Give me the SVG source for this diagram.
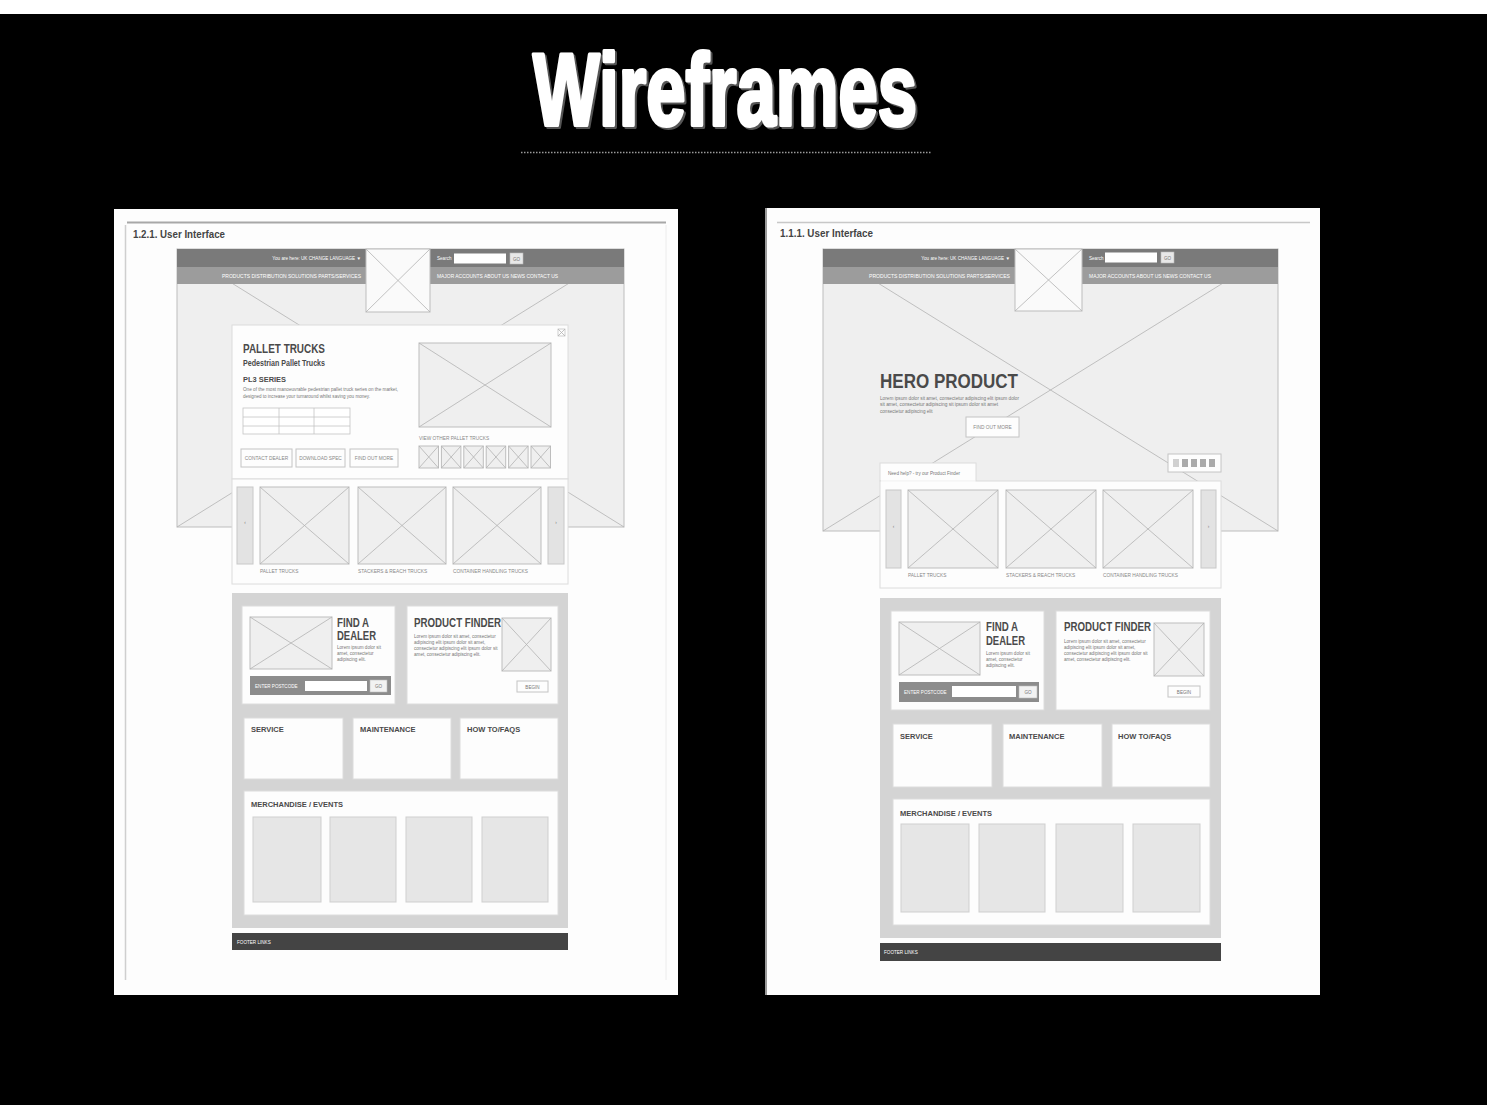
<svg xmlns="http://www.w3.org/2000/svg" width="1487" height="1105" viewBox="0 0 1487 1105">
  <style>
    .ph { fill:#efefef; stroke:#bdbdbd; stroke-width:1; }
    .x { stroke:#b3b3b3; stroke-width:0.8; fill:none; }
    .card { fill:#fdfdfd; stroke:#dcdcdc; stroke-width:1; }
    .btn { fill:#fdfdfd; stroke:#c4c4c4; stroke-width:1; }
    .arrow { fill:#e3e3e3; stroke:#c8c8c8; stroke-width:1; }
    .box { fill:#e6e6e6; stroke:#cfcfcf; stroke-width:1; }
    .sec { font-family:"Liberation Sans Narrow","Liberation Sans",Arial,sans-serif; font-size:11px; font-weight:bold; fill:#444; }
    .h { font-family:"Liberation Sans Narrow","Liberation Sans",Arial,sans-serif; font-weight:bold; fill:#4a4a4a; }
    .s { font-family:"Liberation Sans",Arial,sans-serif; font-size:4.6px; fill:#777; }
    .w { font-family:"Liberation Sans",Arial,sans-serif; font-size:4.6px; fill:#fff; }
    .lbl { font-family:"Liberation Sans",Arial,sans-serif; font-size:4.8px; fill:#888; }
    .ttl { font-family:"Liberation Sans",Arial,sans-serif; font-weight:bold; font-size:102px; stroke-linejoin:round; }
  </style>

  <!-- backdrop -->
  <rect x="0" y="0" width="1487" height="1105" fill="#000"/>
  <rect x="0" y="0" width="1487" height="14" fill="#fff"/>

  <g id="title">
    <text class="ttl" x="533" y="125" fill="#555" stroke="#555" stroke-width="4" textLength="384" lengthAdjust="spacingAndGlyphs" transform="translate(2,2)">Wireframes</text>
    <text class="ttl" x="533" y="125" fill="#fff" stroke="#fff" stroke-width="4" textLength="384" lengthAdjust="spacingAndGlyphs">Wireframes</text>
    <line x1="521" y1="152.5" x2="931" y2="152.5" stroke="#9a9a9a" stroke-width="1.5" stroke-dasharray="1.5 1.5"/>
  </g>

  <!-- ============ 1.2.1 product page ============ -->
  <g id="page-121">
    <rect x="114" y="209" width="564" height="786" fill="#fdfdfd"/>
    <line x1="127" y1="222.5" x2="666" y2="222.5" stroke="#a8a8a8" stroke-width="2"/>
    <line x1="125.5" y1="225" x2="125.5" y2="980" stroke="#cfcfcf" stroke-width="1.5"/>
    <line x1="666" y1="225" x2="666" y2="980" stroke="#ececec" stroke-width="1"/>
    <text class="sec" x="133" y="238" textLength="92" lengthAdjust="spacingAndGlyphs">1.2.1. User Interface</text>

    <g id="hero-121">
      <rect class="ph" x="177" y="249" width="447" height="278"/>
      <path class="x" d="M177 249 L624 527 M624 249 L177 527"/>
    </g>
    <g id="header-121">
      <rect x="177" y="249" width="447" height="18" fill="#7a7a7a"/>
      <rect x="177" y="267" width="447" height="17" fill="#9c9c9c"/>
      <text class="w" x="361" y="260" text-anchor="end">You are here: UK   CHANGE LANGUAGE ▼</text>
      <text class="w" x="222" y="277.5" textLength="139" lengthAdjust="spacingAndGlyphs">PRODUCTS    DISTRIBUTION   SOLUTIONS   PARTS/SERVICES</text>
      <text class="w" x="437" y="260">Search</text>
      <rect x="454" y="253.5" width="52" height="10" fill="#fff"/>
      <rect x="510" y="253" width="13" height="11" fill="#e8e8e8" stroke="#bbb" stroke-width="0.6"/>
      <text class="s" x="516.5" y="260.5" text-anchor="middle">GO</text>
      <text class="w" x="437" y="277.5" textLength="121" lengthAdjust="spacingAndGlyphs">MAJOR ACCOUNTS   ABOUT US   NEWS   CONTACT US</text>
      <rect x="366" y="249" width="64" height="63" fill="#fafafa" stroke="#bdbdbd"/>
      <path class="x" d="M366 249 L430 312 M430 249 L366 312"/>
    </g>

    <g id="product-card-121">
      <rect class="card" x="232" y="325" width="336" height="154"/>
      <rect x="558" y="329" width="7" height="7" fill="none" stroke="#bbb" stroke-width="0.7"/>
      <path class="x" d="M558 329 L565 336 M565 329 L558 336"/>
      <text class="h" x="243" y="353" font-size="13.5" textLength="82" lengthAdjust="spacingAndGlyphs">PALLET TRUCKS</text>
      <text class="h" x="243" y="366" font-size="8.5" textLength="82" lengthAdjust="spacingAndGlyphs">Pedestrian Pallet Trucks</text>
      <text class="h" x="243" y="382" font-size="8" textLength="43" lengthAdjust="spacingAndGlyphs">PL3 SERIES</text>
      <text class="s" x="243" y="391" textLength="155" lengthAdjust="spacingAndGlyphs">One of the most manoeuvrable pedestrian pallet truck series on the market,</text>
      <text class="s" x="243" y="397.5" textLength="127" lengthAdjust="spacingAndGlyphs">designed to increase your turnaround whilst saving you money.</text>
      <rect x="243" y="408" width="107" height="26" fill="#fff" stroke="#c4c4c4" stroke-width="0.8"/>
      <path d="M279 408 V434 M314 408 V434 M243 417 H350 M243 426 H350" stroke="#c4c4c4" stroke-width="0.8"/>
      <rect class="btn" x="241" y="449" width="51" height="18"/>
      <rect class="btn" x="296" y="449" width="49" height="18"/>
      <rect class="btn" x="350" y="449" width="48" height="18"/>
      <text class="lbl" x="266.5" y="460" text-anchor="middle">CONTACT DEALER</text>
      <text class="lbl" x="320.5" y="460" text-anchor="middle">DOWNLOAD SPEC</text>
      <text class="lbl" x="374" y="460" text-anchor="middle">FIND OUT MORE</text>
      <rect class="ph" x="419" y="343" width="132" height="84"/>
      <path class="x" d="M419 343 L551 427 M551 343 L419 427"/>
      <text class="lbl" x="419" y="439.5">VIEW OTHER PALLET TRUCKS</text>
      <g id="thumbs-121">
        <rect class="ph" x="419" y="446" width="19.5" height="22"/><path class="x" d="M419 446 l19.5 22 m-19.5 0 l19.5 -22"/>
        <rect class="ph" x="441.4" y="446" width="19.5" height="22"/><path class="x" d="M441.4 446 l19.5 22 m-19.5 0 l19.5 -22"/>
        <rect class="ph" x="463.8" y="446" width="19.5" height="22"/><path class="x" d="M463.8 446 l19.5 22 m-19.5 0 l19.5 -22"/>
        <rect class="ph" x="486.2" y="446" width="19.5" height="22"/><path class="x" d="M486.2 446 l19.5 22 m-19.5 0 l19.5 -22"/>
        <rect class="ph" x="508.6" y="446" width="19.5" height="22"/><path class="x" d="M508.6 446 l19.5 22 m-19.5 0 l19.5 -22"/>
        <rect class="ph" x="531" y="446" width="19.5" height="22"/><path class="x" d="M531 446 l19.5 22 m-19.5 0 l19.5 -22"/>
      </g>
    </g>

    <g id="carousel-121">
      <rect class="card" x="232" y="479" width="336" height="105"/>
      <rect class="arrow" x="237" y="487" width="16" height="77"/>
      <text class="s" x="245" y="524" text-anchor="middle">‹</text>
      <rect class="arrow" x="548" y="487" width="16" height="77"/>
      <text class="s" x="556" y="524" text-anchor="middle">›</text>
      <rect class="ph" x="260" y="487" width="89" height="77"/><path class="x" d="M260 487 L349 564 M349 487 L260 564"/>
      <rect class="ph" x="358" y="487" width="88" height="77"/><path class="x" d="M358 487 L446 564 M446 487 L358 564"/>
      <rect class="ph" x="453" y="487" width="88" height="77"/><path class="x" d="M453 487 L541 564 M541 487 L453 564"/>
      <text class="lbl" x="260" y="572.5">PALLET TRUCKS</text>
      <text class="lbl" x="358" y="572.5">STACKERS &amp; REACH TRUCKS</text>
      <text class="lbl" x="453" y="572.5">CONTAINER HANDLING TRUCKS</text>
    </g>

    <g id="services-121">
      <rect x="232" y="593" width="336" height="335" fill="#d4d4d4"/>
      <g id="dealer-121">
        <rect class="card" x="242" y="606" width="153" height="98"/>
        <rect class="ph" x="250" y="617" width="82" height="52"/><path class="x" d="M250 617 L332 669 M332 617 L250 669"/>
        <text class="h" x="337" y="627" font-size="12" textLength="32" lengthAdjust="spacingAndGlyphs">FIND A</text>
        <text class="h" x="337" y="640" font-size="12" textLength="39" lengthAdjust="spacingAndGlyphs">DEALER</text>
        <text class="s" x="337" y="649">Lorem ipsum dolor sit</text>
        <text class="s" x="337" y="655">amet, consectetur</text>
        <text class="s" x="337" y="661">adipiscing elit.</text>
        <rect x="250" y="676" width="141" height="19" fill="#8c8c8c"/>
        <text class="w" x="255" y="688">ENTER POSTCODE</text>
        <rect x="305" y="681" width="62" height="10" fill="#fff"/>
        <rect x="370" y="680" width="17" height="12" fill="#f2f2f2" stroke="#bbb" stroke-width="0.6"/>
        <text class="s" x="378.5" y="688" text-anchor="middle">GO</text>
      </g>
      <g id="finder-121">
        <rect class="card" x="407" y="606" width="151" height="98"/>
        <text class="h" x="414" y="627" font-size="12" textLength="87" lengthAdjust="spacingAndGlyphs">PRODUCT FINDER</text>
        <rect class="ph" x="502" y="618" width="49" height="53"/><path class="x" d="M502 618 L551 671 M551 618 L502 671"/>
        <text class="s" x="414" y="638">Lorem ipsum dolor sit amet, consectetur</text>
        <text class="s" x="414" y="644">adipiscing elit ipsum dolor sit amet,</text>
        <text class="s" x="414" y="650">consectetur adipiscing elit ipsum dolor sit</text>
        <text class="s" x="414" y="656">amet, consectetur adipiscing elit.</text>
        <rect class="btn" x="517" y="681" width="31" height="11"/>
        <text class="s" x="532.5" y="688.5" text-anchor="middle">BEGIN</text>
      </g>
      <rect class="card" x="244" y="718" width="99" height="61"/>
      <rect class="card" x="353" y="718" width="98" height="61"/>
      <rect class="card" x="460" y="718" width="98" height="61"/>
      <text class="h" x="251" y="732" font-size="7.5">SERVICE</text>
      <text class="h" x="360" y="732" font-size="7.5">MAINTENANCE</text>
      <text class="h" x="467" y="732" font-size="7.5">HOW TO/FAQS</text>
      <g id="merch-121">
        <rect class="card" x="244" y="791" width="314" height="124"/>
        <text class="h" x="251" y="807" font-size="7.5">MERCHANDISE / EVENTS</text>
        <rect class="box" x="253" y="817" width="68" height="85"/>
        <rect class="box" x="330" y="817" width="66" height="85"/>
        <rect class="box" x="406" y="817" width="66" height="85"/>
        <rect class="box" x="482" y="817" width="66" height="85"/>
      </g>
    </g>
    <g id="footer-121">
      <rect x="232" y="933" width="336" height="17" fill="#444"/>
      <text class="w" x="237" y="943.5">FOOTER LINKS</text>
    </g>
  </g>

  <!-- ============ 1.1.1 home page ============ -->
  <g id="page-111">
    <rect x="765" y="208" width="555" height="787" fill="#fdfdfd"/>
    <line x1="766" y1="208" x2="766" y2="995" stroke="#9a9a9a" stroke-width="2"/>
    <line x1="777" y1="222.5" x2="1310" y2="222.5" stroke="#c8c8c8" stroke-width="1.5"/>
    <text class="sec" x="780" y="237" textLength="93" lengthAdjust="spacingAndGlyphs">1.1.1. User Interface</text>

    <g id="hero-111">
      <rect class="ph" x="823" y="249" width="455" height="282"/>
      <path class="x" d="M823 249 L1278 531 M1278 249 L823 531"/>
      <text class="h" x="880" y="388" font-size="21" textLength="138" lengthAdjust="spacingAndGlyphs">HERO PRODUCT</text>
      <text class="s" x="880" y="400" textLength="139" lengthAdjust="spacingAndGlyphs">Lorem ipsum dolor sit amet, consectetur adipiscing elit ipsum dolor</text>
      <text class="s" x="880" y="406" textLength="118" lengthAdjust="spacingAndGlyphs">sit amet, consectetur adipiscing sit ipsum dolor sit amet</text>
      <text class="s" x="880" y="412.5">consectetur adipiscing elit</text>
      <rect class="btn" x="966" y="417" width="53" height="20"/>
      <text class="lbl" x="992.5" y="428.5" text-anchor="middle">FIND OUT MORE</text>
      <rect class="btn" x="1168" y="454" width="53" height="18"/>
      <rect x="1173" y="459" width="6" height="8" fill="#d0d0d0"/>
      <rect x="1182" y="459" width="6" height="8" fill="#aaa"/>
      <rect x="1191" y="459" width="6" height="8" fill="#aaa"/>
      <rect x="1200" y="459" width="6" height="8" fill="#aaa"/>
      <rect x="1209" y="459" width="6" height="8" fill="#aaa"/>
    </g>
    <g id="header-111">
      <rect x="823" y="249" width="455" height="18" fill="#7a7a7a"/>
      <rect x="823" y="267" width="455" height="17" fill="#9c9c9c"/>
      <text class="w" x="1010" y="260" text-anchor="end">You are here: UK   CHANGE LANGUAGE ▼</text>
      <text class="w" x="869" y="277.5" textLength="141" lengthAdjust="spacingAndGlyphs">PRODUCTS    DISTRIBUTION   SOLUTIONS   PARTS/SERVICES</text>
      <text class="w" x="1089" y="260">Search</text>
      <rect x="1105" y="252.5" width="52" height="10" fill="#fff"/>
      <rect x="1161" y="252" width="13" height="11" fill="#e8e8e8" stroke="#bbb" stroke-width="0.6"/>
      <text class="s" x="1167.5" y="259.5" text-anchor="middle">GO</text>
      <text class="w" x="1089" y="277.5" textLength="122" lengthAdjust="spacingAndGlyphs">MAJOR ACCOUNTS   ABOUT US   NEWS   CONTACT US</text>
      <rect x="1015" y="249" width="67" height="62" fill="#fafafa" stroke="#bdbdbd"/>
      <path class="x" d="M1015 249 L1082 311 M1082 249 L1015 311"/>
    </g>

    <g id="carousel-111">
      <rect class="card" x="880" y="463" width="96" height="18"/>
      <text class="s" x="888" y="474.5">Need help? - try our Product Finder</text>
      <rect class="card" x="880" y="481" width="341" height="107"/>
      <line x1="881" y1="481" x2="975.5" y2="481" stroke="#fdfdfd" stroke-width="1.5"/>
      <rect class="arrow" x="886" y="490" width="15" height="78"/>
      <text class="s" x="893.5" y="528" text-anchor="middle">‹</text>
      <rect class="arrow" x="1201" y="490" width="15" height="78"/>
      <text class="s" x="1208.5" y="528" text-anchor="middle">›</text>
      <rect class="ph" x="908" y="490" width="90" height="78"/><path class="x" d="M908 490 L998 568 M998 490 L908 568"/>
      <rect class="ph" x="1006" y="490" width="90" height="78"/><path class="x" d="M1006 490 L1096 568 M1096 490 L1006 568"/>
      <rect class="ph" x="1103" y="490" width="90" height="78"/><path class="x" d="M1103 490 L1193 568 M1193 490 L1103 568"/>
      <text class="lbl" x="908" y="576.5">PALLET TRUCKS</text>
      <text class="lbl" x="1006" y="576.5">STACKERS &amp; REACH TRUCKS</text>
      <text class="lbl" x="1103" y="576.5">CONTAINER HANDLING TRUCKS</text>
    </g>

    <g id="services-111">
      <rect x="880" y="598" width="341" height="340" fill="#d4d4d4"/>
      <g id="dealer-111">
        <rect class="card" x="891" y="611" width="153" height="99"/>
        <rect class="ph" x="899" y="622" width="81" height="53"/><path class="x" d="M899 622 L980 675 M980 622 L899 675"/>
        <text class="h" x="986" y="631" font-size="12" textLength="32" lengthAdjust="spacingAndGlyphs">FIND A</text>
        <text class="h" x="986" y="645" font-size="12" textLength="39" lengthAdjust="spacingAndGlyphs">DEALER</text>
        <text class="s" x="986" y="655">Lorem ipsum dolor sit</text>
        <text class="s" x="986" y="661">amet, consectetur</text>
        <text class="s" x="986" y="667">adipiscing elit.</text>
        <rect x="899" y="682" width="140" height="20" fill="#8c8c8c"/>
        <text class="w" x="904" y="694">ENTER POSTCODE</text>
        <rect x="952" y="686" width="64" height="11" fill="#fff"/>
        <rect x="1019" y="686" width="18" height="12" fill="#f2f2f2" stroke="#bbb" stroke-width="0.6"/>
        <text class="s" x="1028" y="694" text-anchor="middle">GO</text>
      </g>
      <g id="finder-111">
        <rect class="card" x="1056" y="611" width="154" height="99"/>
        <text class="h" x="1064" y="631" font-size="12" textLength="87" lengthAdjust="spacingAndGlyphs">PRODUCT FINDER</text>
        <rect class="ph" x="1154" y="623" width="50" height="53"/><path class="x" d="M1154 623 L1204 676 M1204 623 L1154 676"/>
        <text class="s" x="1064" y="643">Lorem ipsum dolor sit amet, consectetur</text>
        <text class="s" x="1064" y="649">adipiscing elit ipsum dolor sit amet,</text>
        <text class="s" x="1064" y="655">consectetur adipiscing elit ipsum dolor sit</text>
        <text class="s" x="1064" y="661">amet, consectetur adipiscing elit.</text>
        <rect class="btn" x="1168" y="686" width="32" height="11"/>
        <text class="s" x="1184" y="693.5" text-anchor="middle">BEGIN</text>
      </g>
      <rect class="card" x="893" y="724" width="99" height="63"/>
      <rect class="card" x="1003" y="724" width="99" height="63"/>
      <rect class="card" x="1112" y="724" width="98" height="63"/>
      <text class="h" x="900" y="739" font-size="7.5">SERVICE</text>
      <text class="h" x="1009" y="739" font-size="7.5">MAINTENANCE</text>
      <text class="h" x="1118" y="739" font-size="7.5">HOW TO/FAQS</text>
      <g id="merch-111">
        <rect class="card" x="893" y="799" width="317" height="126"/>
        <text class="h" x="900" y="816" font-size="7.5">MERCHANDISE / EVENTS</text>
        <rect class="box" x="901" y="824" width="68" height="88"/>
        <rect class="box" x="979" y="824" width="66" height="88"/>
        <rect class="box" x="1056" y="824" width="67" height="88"/>
        <rect class="box" x="1133" y="824" width="67" height="88"/>
      </g>
    </g>
    <g id="footer-111">
      <rect x="880" y="943" width="341" height="18" fill="#444"/>
      <text class="w" x="884" y="954">FOOTER LINKS</text>
    </g>
  </g>
</svg>
